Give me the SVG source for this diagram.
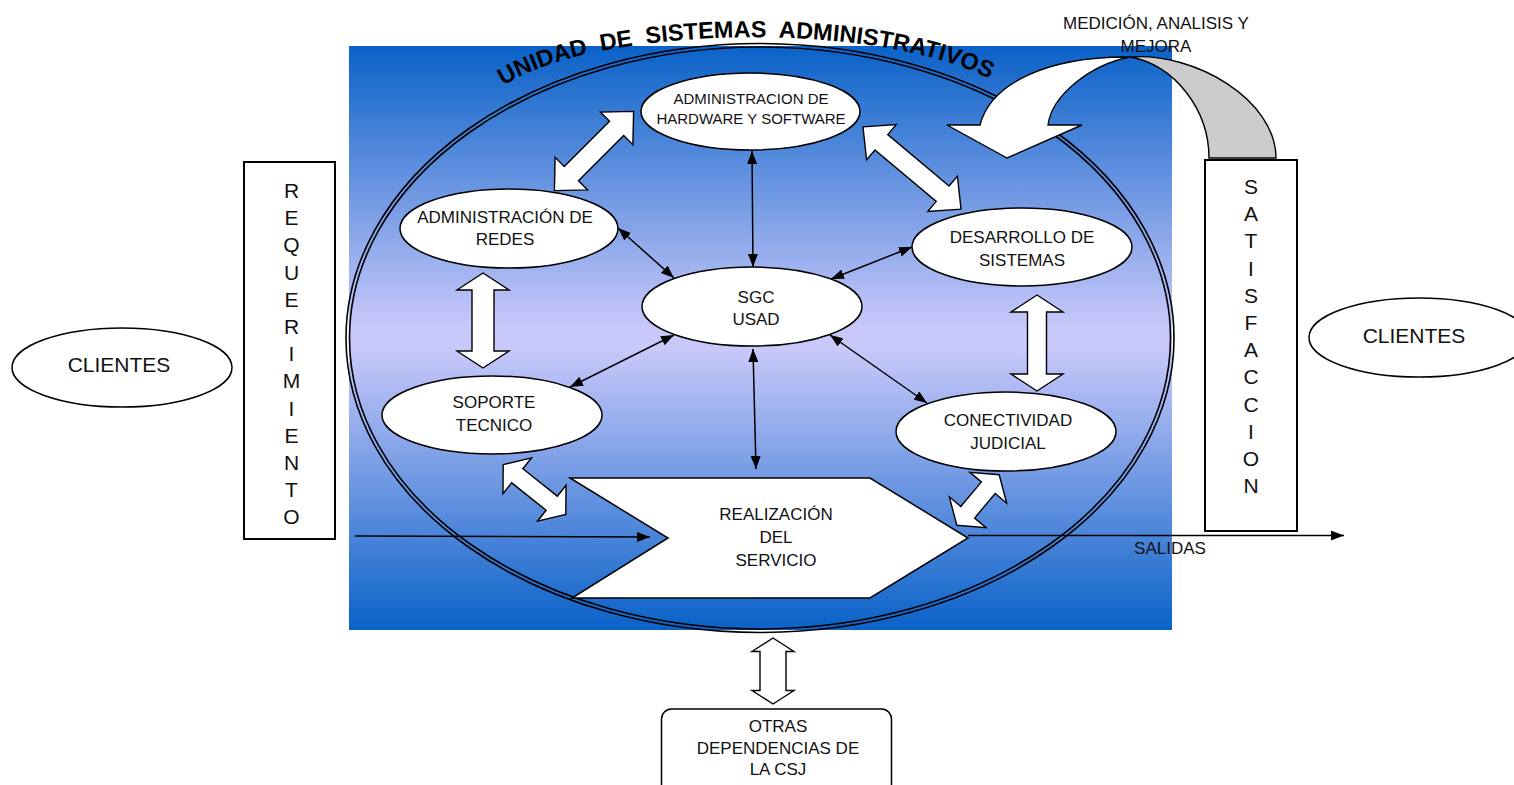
<svg xmlns="http://www.w3.org/2000/svg" width="1514" height="785" viewBox="0 0 1514 785">
  <style>
    text { font-family: "Liberation Sans", Arial, "DejaVu Sans", sans-serif; fill: #111; text-anchor: middle; }
    .t15 { font-size: 15px; }
    .t17 { font-size: 17px; }
    .t21 { font-size: 21px; }
    .title { font-size: 23.5px; font-weight: bold; text-anchor: start; fill: #000; }
    .node { fill: #fff; stroke: #000; stroke-width: 1.5; }
    .box { fill: #fff; stroke: #000; stroke-width: 2; }
    .ring { fill: none; stroke: #000; stroke-width: 1.6; }
    .thin { fill: none; stroke: #000; stroke-width: 1.5; }
    .block { fill: #fff; stroke: #000; stroke-width: 1.4; stroke-linejoin: miter; }
  </style>
  <defs>
    <linearGradient id="bg" x1="0" y1="0" x2="0" y2="1">
      <stop offset="0" stop-color="#0a62c8"/>
      <stop offset="0.48" stop-color="#c8c8fa"/>
      <stop offset="0.52" stop-color="#c8c8fa"/>
      <stop offset="1" stop-color="#0a62c8"/>
    </linearGradient>
    <marker id="head" viewBox="0 0 13 10" refX="13" refY="5" markerWidth="13" markerHeight="10" markerUnits="userSpaceOnUse" orient="auto-start-reverse">
      <path d="M0,0 L13,5 L0,10 Z" fill="#000"/>
    </marker>
  </defs>

  <rect width="1514" height="785" fill="#fff"/>

  <!-- shaded unit area -->
  <rect x="349" y="46" width="823" height="584" fill="url(#bg)"/>

  <!-- double ring of the unit -->
  <g id="unit-ring">
    <ellipse class="ring" cx="760" cy="338" rx="414" ry="294.5"/>
    <ellipse class="ring" cx="760" cy="338" rx="410.5" ry="291"/>
  </g>

  <!-- arched title -->
  <path id="arc" d="M500,88 C595,22 905,18 1008,90" fill="none"/>
  <text class="title" xml:space="preserve"><textPath href="#arc" startOffset="4">UNIDAD  DE  SISTEMAS  ADMINISTRATIVOS</textPath></text>

  <!-- connectors -->
  <g id="connectors">
    <!-- thin two-way links to SGC -->
    <line class="thin" x1="752" y1="151" x2="753" y2="267" marker-start="url(#head)" marker-end="url(#head)"/>
    <line class="thin" x1="618" y1="228" x2="674" y2="278" marker-start="url(#head)" marker-end="url(#head)"/>
    <line class="thin" x1="912" y1="247" x2="831" y2="279" marker-start="url(#head)" marker-end="url(#head)"/>
    <line class="thin" x1="674" y1="335" x2="570" y2="387" marker-start="url(#head)" marker-end="url(#head)"/>
    <line class="thin" x1="830" y1="335" x2="927" y2="403" marker-start="url(#head)" marker-end="url(#head)"/>
    <line class="thin" x1="753" y1="349" x2="756" y2="469" marker-start="url(#head)" marker-end="url(#head)"/>

    <!-- input and output flow -->
    <line class="thin" x1="355" y1="536" x2="650" y2="537" marker-end="url(#head)"/>
    <line class="thin" x1="968" y1="535.5" x2="1344" y2="535.5" marker-end="url(#head)"/>

    <!-- block double arrows -->
    <path class="block" d="M-56,0 L-32,-23 L-32,-10 L32,-10 L32,-23 L56,0 L32,23 L32,10 L-32,10 L-32,23 Z" transform="translate(594,151) rotate(-45)"/>
    <path class="block" d="M-64,0 L-40,-23 L-40,-10 L40,-10 L40,-23 L64,0 L40,23 L40,10 L-40,10 L-40,23 Z" transform="translate(912,168) rotate(40)"/>
    <path class="block" d="M-47.5,0 L-30.5,-26 L-30.5,-11 L30.5,-11 L30.5,-26 L47.5,0 L30.5,26 L30.5,11 L-30.5,11 L-30.5,26 Z" transform="translate(483,320.5) rotate(90)"/>
    <path class="block" d="M-48,0 L-31,-26 L-31,-9.5 L31,-9.5 L31,-26 L48,0 L31,26 L31,9.5 L-31,9.5 L-31,26 Z" transform="translate(1037,343) rotate(90)"/>
    <path class="block" d="M-40,0 L-22,-23 L-22,-9 L22,-9 L22,-23 L40,0 L22,23 L22,9 L-22,9 L-22,23 Z" transform="translate(534.5,489.5) rotate(38.5)"/>
    <path class="block" d="M-33,0 L-16,-24 L-16,-9 L16,-9 L16,-24 L33,0 L16,24 L16,9 L-16,9 L-16,24 Z" transform="translate(978,500) rotate(-50)"/>
    <path class="block" d="M-33,0 L-19.5,-21 L-19.5,-13 L19.5,-13 L19.5,-21 L33,0 L19.5,21 L19.5,13 L-19.5,13 L-19.5,21 Z" transform="translate(773,671) rotate(90)"/>

    <!-- curved feedback arrow: measurement, analysis and improvement -->
    <g id="feedback-arrow">
      <path d="M1130,57 C1195,52 1276,100 1276,158 L1209,158 C1209,110 1175,65 1130,57 Z" fill="#cccccc" stroke="#000" stroke-width="1.4"/>
      <path d="M1130,57 C1045,56 990,85 980,125 L947,125 L1007,158 L1082,125 L1048,125 C1052,95 1090,65 1130,57 Z" fill="#fff" stroke="#000" stroke-width="1.4" stroke-linejoin="miter"/>
    </g>
  </g>

  <!-- nodes -->
  <g id="node-hardware">
    <ellipse class="node" cx="750.5" cy="111.5" rx="109.5" ry="38.5"/>
    <text class="t15" x="751" y="104">ADMINISTRACION DE</text>
    <text class="t15" x="751" y="124">HARDWARE Y SOFTWARE</text>
  </g>

  <g id="node-sgc">
    <ellipse class="node" cx="752" cy="306.5" rx="110" ry="39.5"/>
    <text class="t17" x="756" y="303">SGC</text>
    <text class="t17" x="756" y="325">USAD</text>
  </g>

  <g id="node-redes">
    <ellipse class="node" cx="509" cy="228.5" rx="109" ry="39.5"/>
    <text class="t17" x="505" y="223">ADMINISTRACIÓN DE</text>
    <text class="t17" x="505" y="244.5">REDES</text>
  </g>

  <g id="node-desarrollo">
    <ellipse class="node" cx="1022" cy="247" rx="110" ry="39"/>
    <text class="t17" x="1022" y="243">DESARROLLO DE</text>
    <text class="t17" x="1022" y="265.5">SISTEMAS</text>
  </g>

  <g id="node-soporte">
    <ellipse class="node" cx="492" cy="415" rx="110" ry="39"/>
    <text class="t17" x="494" y="408">SOPORTE</text>
    <text class="t17" x="494" y="431">TECNICO</text>
  </g>

  <g id="node-conectividad">
    <ellipse class="node" cx="1006" cy="431.5" rx="110" ry="39.5"/>
    <text class="t17" x="1008" y="426">CONECTIVIDAD</text>
    <text class="t17" x="1008" y="449">JUDICIAL</text>
  </g>

  <g id="node-realizacion">
    <path class="node" d="M570,478 L870,478 L968,538 L870,598 L572,598 L668,538 Z"/>
    <text class="t17" x="776" y="520">REALIZACIÓN</text>
    <text class="t17" x="776" y="543">DEL</text>
    <text class="t17" x="776" y="566">SERVICIO</text>
  </g>

  <g id="node-clientes-in">
    <ellipse class="node" cx="122" cy="367.5" rx="110" ry="39.5"/>
    <text class="t21" x="119" y="372">CLIENTES</text>
  </g>

  <g id="node-clientes-out">
    <ellipse class="node" cx="1419" cy="337.5" rx="110" ry="39.5"/>
    <text class="t21" x="1414" y="343">CLIENTES</text>
  </g>

  <g id="node-requerimiento">
    <rect class="box" x="244" y="162" width="91" height="377"/>
    <text class="t21"><tspan x="291.5" y="198">R</tspan><tspan x="291.5" dy="27.2">E</tspan><tspan x="291.5" dy="27.2">Q</tspan><tspan x="291.5" dy="27.2">U</tspan><tspan x="291.5" dy="27.2">E</tspan><tspan x="291.5" dy="27.2">R</tspan><tspan x="291.5" dy="27.2">I</tspan><tspan x="291.5" dy="27.2">M</tspan><tspan x="291.5" dy="27.2">I</tspan><tspan x="291.5" dy="27.2">E</tspan><tspan x="291.5" dy="27.2">N</tspan><tspan x="291.5" dy="27.2">T</tspan><tspan x="291.5" dy="27.2">O</tspan></text>
  </g>

  <g id="node-satisfaccion">
    <rect class="box" x="1205" y="160" width="92" height="371"/>
    <text class="t21"><tspan x="1251" y="194">S</tspan><tspan x="1251" dy="27.2">A</tspan><tspan x="1251" dy="27.2">T</tspan><tspan x="1251" dy="27.2">I</tspan><tspan x="1251" dy="27.2">S</tspan><tspan x="1251" dy="27.2">F</tspan><tspan x="1251" dy="27.2">A</tspan><tspan x="1251" dy="27.2">C</tspan><tspan x="1251" dy="27.2">C</tspan><tspan x="1251" dy="27.2">I</tspan><tspan x="1251" dy="27.2">O</tspan><tspan x="1251" dy="27.2">N</tspan></text>
  </g>

  <g id="node-otras">
    <rect class="node" x="661.5" y="709" width="230" height="100" rx="10" ry="10"/>
    <text class="t17" x="778" y="732">OTRAS</text>
    <text class="t17" x="778" y="753.5">DEPENDENCIAS DE</text>
    <text class="t17" x="778" y="775">LA CSJ</text>
  </g>

  <!-- free labels -->
  <g id="labels">
    <text class="t17" x="1156" y="29">MEDICIÓN, ANALISIS Y</text>
    <text class="t17" x="1156" y="51.5">MEJORA</text>
    <text class="t17" x="1170" y="554">SALIDAS</text>
  </g>
</svg>
